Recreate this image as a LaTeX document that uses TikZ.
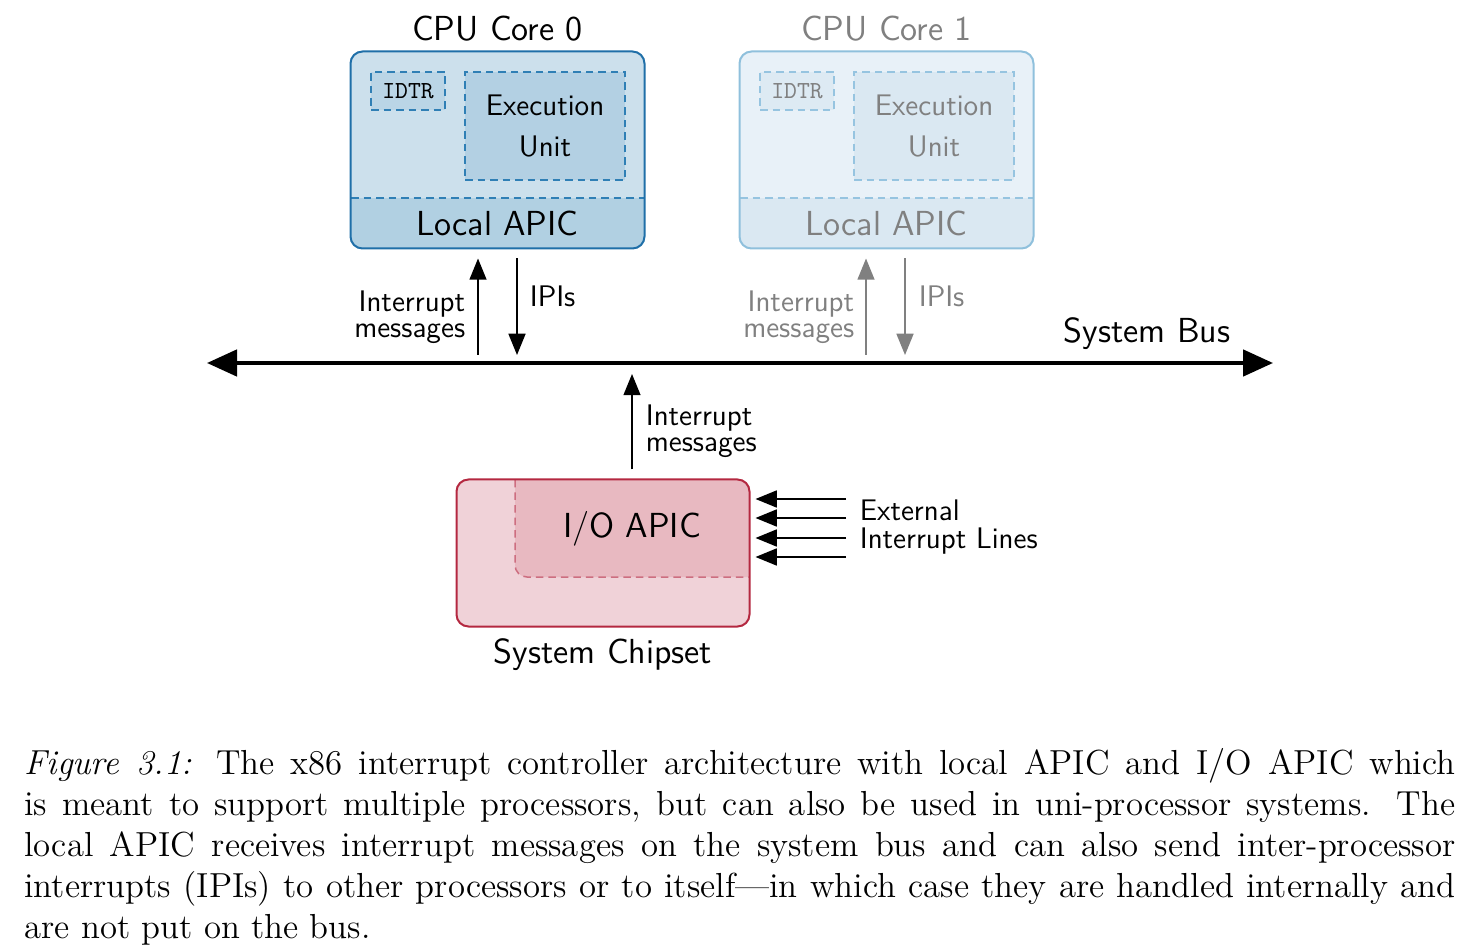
\documentclass[tikz,border=0pt]{standalone}
\usepackage{xcolor}
\usetikzlibrary{arrows.meta, calc}

\definecolor{cAline}{RGB}{31,111,168}
\definecolor{cAdash}{RGB}{47,127,181}
\definecolor{cAfill}{RGB}{204,224,236}
\definecolor{cAband}{RGB}{177,208,226}
\definecolor{cAreg}{RGB}{186,213,230}
\definecolor{cAexec}{RGB}{179,208,227}
\definecolor{cBline}{RGB}{143,192,220}
\definecolor{cBdash}{RGB}{150,196,224}
\definecolor{cBfill}{RGB}{232,241,248}
\definecolor{cBband}{RGB}{218,232,242}
\definecolor{cBreg}{RGB}{221,234,243}
\definecolor{cBexec}{RGB}{218,232,242}
\definecolor{fadetext}{RGB}{128,128,128}
\definecolor{chipline}{RGB}{180,40,64}
\definecolor{chipdash}{RGB}{205,110,128}
\definecolor{chipfill}{RGB}{240,210,216}
\definecolor{iofill}{RGB}{232,185,193}

\begin{document}
\begin{tikzpicture}[x=0.4pt, y=-0.4pt,
    big/.style={font=\sffamily\fontsize{13.9}{16}\selectfont},
    small/.style={font=\sffamily\fontsize{11.9}{10.5}\selectfont},
    regfont/.style={font=\ttfamily\fontsize{9.8}{10}\selectfont},
    corebox/.style={rounded corners=4.8pt, minimum width=117.2pt, minimum height=78.4pt, inner sep=0pt},
    sep/.style={line width=0.6pt, dash pattern=on 3pt off 2pt},
    msg/.style={-{Triangle[length=8.5pt,width=6.8pt]}, line width=0.6pt},
    bus/.style={{Triangle[length=12pt,width=10.5pt]}-{Triangle[length=12pt,width=10.5pt]}, line width=1.6pt},
    caption/.style={font=\rmfamily\fontsize{13.9}{16.4}\selectfont, text width=572.4pt, align=justify, inner sep=0pt}]
    \useasboundingbox (0,0) rectangle (1479,951);

    % CPU core 0
    \node[corebox, fill=cAfill] (core0) at (497.5,150) {};
    \begin{scope}
        \clip[rounded corners=4.8pt] (core0.south west) rectangle (core0.north east);
        \fill[cAband] (351,198) rectangle (644,248);
    \end{scope}
    \draw[cAdash, sep] (351,198) -- (644,198);
    \draw[cAline, line width=0.8pt, rounded corners=4.8pt] (core0.south west) rectangle (core0.north east);
    \node[regfont, draw=cAdash, sep, fill=cAreg, minimum width=29.6pt, minimum height=15.2pt] (idtr0) at (408,91) {IDTR};
    \node[small, draw=cAdash, sep, fill=cAexec, minimum width=64pt, minimum height=43.2pt, align=center] (exec0) at (545,126) {Execution\\[5.9pt]Unit};
    \node[big] (apic0) at (497.5,223) {Local APIC};
    \node[big] (title0) at (497.5,29) {CPU Core 0};

    % CPU core 1
    \node[corebox, fill=cBfill] (core1) at (886.5,150) {};
    \begin{scope}
        \clip[rounded corners=4.8pt] (core1.south west) rectangle (core1.north east);
        \fill[cBband] (740,198) rectangle (1033,248);
    \end{scope}
    \draw[cBdash, sep] (740,198) -- (1033,198);
    \draw[cBline, line width=0.8pt, rounded corners=4.8pt] (core1.south west) rectangle (core1.north east);
    \node[regfont, text=fadetext, draw=cBdash, sep, fill=cBreg, minimum width=29.6pt, minimum height=15.2pt] (idtr1) at (797,91) {IDTR};
    \node[small, text=fadetext, draw=cBdash, sep, fill=cBexec, minimum width=64pt, minimum height=43.2pt, align=center] (exec1) at (934,126) {Execution\\[5.9pt]Unit};
    \node[big, text=fadetext] (apic1) at (886.5,223) {Local APIC};
    \node[big, text=fadetext] (title1) at (886.5,29) {CPU Core 1};

    % system bus
    \coordinate (busW) at (207,363);
    \coordinate (busE) at (1273,363);
    \draw[bus] (busW) -- (busE);
    \node[big] (buslabel) at (1147,334) {System Bus};

    % core 0 <-> bus
    \coordinate (up0) at (478,355);
    \coordinate (down0) at (517,355);
    \draw[msg, shorten >=4pt] (up0) -- (up0 |- core0.south);
    \draw[msg, shorten <=4pt] (down0 |- core0.south) -- (down0);
    \node[small, align=right, anchor=east] (int0) at (474,317) {Interrupt\\messages};
    \node[small, anchor=west] (ipi0) at (521,296) {IPIs};

    % core 1 <-> bus
    \coordinate (up1) at (866,355);
    \coordinate (down1) at (905,355);
    \draw[msg, fadetext, shorten >=4pt] (up1) -- (up1 |- core1.south);
    \draw[msg, fadetext, shorten <=4pt] (down1 |- core1.south) -- (down1);
    \node[small, text=fadetext, align=right, anchor=east] (int1) at (863,317) {Interrupt\\messages};
    \node[small, text=fadetext, anchor=west] (ipi1) at (910,296) {IPIs};

    % system chipset
    \node[rounded corners=4.8pt, fill=chipfill, minimum width=116.8pt, minimum height=58.4pt, inner sep=0pt] (chip) at (603,553) {};
    \begin{scope}
        \clip[rounded corners=4.8pt] (chip.south west) rectangle (chip.north east);
        \fill[iofill, rounded corners=4.8pt] (515,470) rectangle (760,577);
    \end{scope}
    \draw[chipdash, sep, rounded corners=4.8pt] (515,480) -- (515,577) -- (749,577);
    \draw[chipline, line width=0.8pt, rounded corners=4.8pt] (chip.south west) rectangle (chip.north east);
    \node[big] (ioapic) at (632,529) {I/O APIC};
    \node[big] (chiplabel) at (603,655) {System Chipset};

    % chipset -> bus
    \draw[msg, shorten <=4pt, shorten >=4.4pt] (ioapic |- chip.north) -- (ioapic |- busW);
    \node[small, align=left, anchor=west] (int2) at (637,431) {Interrupt\\messages};

    % external lines
    \foreach \y in {499,518,538,557}
        \draw[msg, shorten >=2.4pt] (846,\y) -- (chip.east |- 846,\y);
    \node[small, align=left, anchor=west] (extlines) at (851,527) {External\\[1pt]Interrupt Lines};

    % caption
    \node[caption, anchor=north west] (cap) at (24,748) {\hbadness=10000 \textit{Figure 3.1:} The x86 interrupt controller architecture with local APIC and I/O APIC which\linebreak
    is meant to support multiple processors, but can also be used in uni-processor systems. The\linebreak
    local APIC receives interrupt messages on the system bus and can also send inter-processor\linebreak
    interrupts (IPIs) to other processors or to itself---in which case they are handled internally and\linebreak
    are not put on the bus.};
\end{tikzpicture}
\end{document}
